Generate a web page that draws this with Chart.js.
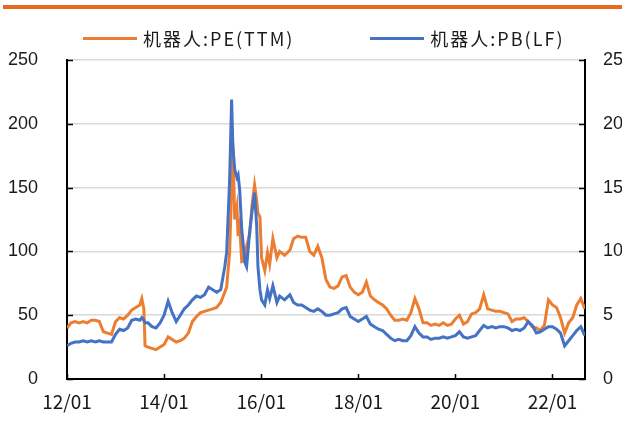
<!DOCTYPE html>
<html>
<head>
<meta charset="utf-8">
<script src="https://cdn.jsdelivr.net/npm/chart.js@4.4.1/dist/chart.umd.min.js"></script>
<style>
  body { margin: 0; background: #fff; }
  #wrap { position: relative; width: 622px; height: 426px; }
  #legend {
    position: absolute; left: 83px; top: 28px; height: 20px;
    display: flex; align-items: center;
    font-family: "Noto Sans CJK SC", sans-serif; font-size: 18px;
    letter-spacing: 2px; color: #1a1a1a; white-space: nowrap;
  }
  .item { display: flex; align-items: center; margin-right: 76px; }
  .swatch { display: inline-block; width: 54px; height: 3px; margin-right: 6px; }
</style>
</head>
<body>
<div id="wrap">
  <canvas id="myChart" width="622" height="426"></canvas>
  <div id="legend"></div>
</div>
<script>
// 日期 / PE(TTM) / PB(LF)
const dates = [
  '2012-01-01','2012-02-01','2012-03-01','2012-04-01','2012-05-01','2012-06-01',
  '2012-07-01','2012-08-01','2012-09-01','2012-10-01','2012-11-01','2012-12-01',
  '2013-01-01','2013-02-01','2013-03-01','2013-04-01','2013-05-01','2013-06-01',
  '2013-07-01','2013-07-16','2013-08-01','2013-08-10','2013-09-01','2013-10-01',
  '2013-11-01','2013-12-01',
  '2014-01-01','2014-02-01','2014-03-01','2014-04-01','2014-05-01','2014-06-01',
  '2014-07-01','2014-08-01','2014-09-01','2014-10-01','2014-11-01','2014-12-01',
  '2015-01-01','2015-02-01','2015-03-01','2015-04-01','2015-04-15','2015-05-07',
  '2015-05-22','2015-06-01','2015-06-15','2015-07-01','2015-07-10','2015-07-22',
  '2015-08-07','2015-09-01','2015-09-13','2015-10-07','2015-10-22','2015-11-12',
  '2015-11-28','2015-12-07','2015-12-22',
  '2016-01-04','2016-01-28','2016-02-18','2016-03-04','2016-03-28','2016-04-28',
  '2016-05-18','2016-06-25','2016-08-04','2016-09-01','2016-10-01','2016-11-01',
  '2016-12-01',
  '2017-01-01','2017-02-01','2017-03-01','2017-04-01','2017-05-01','2017-06-01',
  '2017-07-01','2017-08-01','2017-09-01','2017-10-01','2017-11-01','2017-12-01',
  '2018-01-01','2018-02-01','2018-03-01','2018-04-01','2018-05-01','2018-06-01',
  '2018-07-01','2018-08-01','2018-09-01','2018-10-01','2018-11-01','2018-12-01',
  '2019-01-01','2019-02-01','2019-03-01','2019-04-01','2019-05-01','2019-06-01',
  '2019-07-01','2019-08-01','2019-09-01','2019-10-01','2019-11-01','2019-12-01',
  '2020-01-01','2020-02-01','2020-03-01','2020-04-01','2020-05-01','2020-06-01',
  '2020-07-01','2020-08-01','2020-09-01','2020-10-01','2020-11-01','2020-12-01',
  '2021-01-01','2021-02-01','2021-03-01','2021-04-01','2021-05-01','2021-06-01',
  '2021-07-01','2021-08-01','2021-09-01','2021-10-01','2021-11-01','2021-12-01',
  '2022-01-01','2022-02-01','2022-03-01','2022-04-01','2022-05-01','2022-06-01',
  '2022-07-01','2022-08-01','2022-09-01'
];

const peTTM = [
  40, 44, 45, 44, 45, 44, 46, 46, 45, 37, 36, 35,
  45, 48, 47, 50, 54, 56, 58, 63, 55, 26, 25, 24, 23, 25,
  27, 33, 31, 29, 30, 32, 36, 45, 49, 52, 53, 54,
  55, 56, 60, 68, 72, 99, 150, 185, 125, 135, 112, 120,
  92, 93, 104, 114, 135, 152, 140, 130, 127,
  95, 85, 99, 90, 110, 95, 100, 97, 101, 110, 112, 111, 111,
  100, 97, 104, 95, 78, 72, 71, 73, 80, 81, 72, 68,
  66, 68, 76, 65, 62, 60, 58, 55, 50, 46, 46, 47,
  46, 52, 63, 55, 44, 44, 42, 43, 42, 44, 42, 43,
  47, 50, 43, 45, 51, 52, 55, 66, 55, 54, 53, 53,
  52, 51, 45, 47, 47, 48, 45, 41, 40, 38, 42, 62,
  58, 56, 48, 36, 44, 48, 58, 63, 55
];

const pbLF = [
  2.6, 2.8, 2.9, 2.9, 3.0, 2.9, 3.0, 2.9, 3.0, 2.9, 2.9, 2.9,
  3.5, 3.9, 3.8, 4.0, 4.6, 4.7, 4.6, 4.8, 4.6, 4.4, 4.4, 4.1, 4.0, 4.4,
  5.0, 6.1, 5.2, 4.5, 5.0, 5.5, 5.8, 6.2, 6.5, 6.4, 6.6, 7.2,
  7.0, 6.8, 7.0, 8.8, 9.9, 15.6, 21.9, 18.2, 16.4, 15.8, 16.0, 14.8,
  11.7, 9.1, 8.8, 11.7, 13.0, 14.6, 12.0, 8.8, 7.0,
  6.2, 5.8, 7.0, 6.3, 7.3, 6.0, 6.5, 6.2, 6.6, 6.0, 5.8, 5.8, 5.6,
  5.4, 5.3, 5.5, 5.3, 5.0, 5.0, 5.1, 5.2, 5.5, 5.6, 4.9, 4.7,
  4.5, 4.7, 4.9, 4.3, 4.1, 3.9, 3.8, 3.5, 3.2, 3.0, 3.1, 3.0,
  3.0, 3.4, 4.1, 3.6, 3.3, 3.3, 3.1, 3.2, 3.2, 3.3, 3.2, 3.3,
  3.4, 3.7, 3.3, 3.2, 3.3, 3.4, 3.8, 4.2, 4.0, 4.1, 4.0, 4.1,
  4.1, 4.0, 3.8, 3.9, 3.8, 4.0, 4.5, 4.2, 3.6, 3.7, 3.9, 4.1,
  4.1, 3.9, 3.6, 2.6, 3.0, 3.4, 3.8, 4.1, 3.4
];

const seriesNames = ['机器人:PE(TTM)', '机器人:PB(LF)'];
const seriesColors = ['#ED7D31', '#4472C4'];
const yTicksLeft = [0, 50, 100, 150, 200, 250];
const yTicksRight = [0, 5, 10, 15, 20, 25];
const xTickYears = [2012, 2014, 2016, 2018, 2020, 2022];

function toYear(s) {
    const [y, m, d] = s.split('-').map(Number);
    return y + (m - 1) / 12 + (d - 1) / 365;
}

const xs = dates.map(toYear);
const pePoints = xs.map((x, i) => ({ x: x, y: peTTM[i] }));
const pbPoints = xs.map((x, i) => ({ x: x, y: pbLF[i] }));

// 顶部的橙色横条
const topBar = {
    id: 'topBar',
    beforeDraw(chart) {
        const c = chart.ctx;
        c.save();
        c.fillStyle = '#E36C21';
        c.fillRect(3, 5, chart.width - 3, 4);
        c.restore();
    }
};

// 刻度线朝内
const innerTicks = {
    id: 'innerTicks',
    afterDraw(chart) {
        const c = chart.ctx;
        const area = chart.chartArea;
        const s = chart.scales;
        c.save();
        c.strokeStyle = '#000';
        c.lineWidth = 1.5;
        c.beginPath();
        yTicksLeft.forEach(v => {
            const py = Math.round(s.y.getPixelForValue(v)) + 0.5;
            c.moveTo(area.left, py); c.lineTo(area.left + 6, py);
        });
        yTicksRight.forEach(v => {
            const py = Math.round(s.y1.getPixelForValue(v)) + 0.5;
            c.moveTo(area.right, py); c.lineTo(area.right - 6, py);
        });
        xTickYears.forEach(v => {
            const px = Math.round(s.x.getPixelForValue(v)) + 0.5;
            c.moveTo(px, area.bottom); c.lineTo(px, area.bottom - 5);
        });
        c.stroke();
        c.restore();
    }
};

// HTML 图例
const htmlLegend = {
    id: 'htmlLegend',
    afterUpdate(chart) {
        const box = document.getElementById('legend');
        box.innerHTML = '';
        seriesNames.forEach((name, i) => {
            const item = document.createElement('div');
            item.className = 'item';
            const sw = document.createElement('span');
            sw.className = 'swatch';
            sw.style.background = seriesColors[i];
            const txt = document.createElement('span');
            txt.textContent = name;
            item.appendChild(sw);
            item.appendChild(txt);
            box.appendChild(item);
        });
    }
};

const ctx = document.getElementById('myChart');

const tickFont = { family: '"Liberation Sans", Arial, sans-serif', size: 18 };

const valuationChart = new Chart(ctx, {
    type: 'line',
    data: {
        datasets: [
            {
                label: seriesNames[0],
                data: pePoints,
                borderColor: seriesColors[0],
                backgroundColor: seriesColors[0],
                borderWidth: 3,
                pointRadius: 0,
                yAxisID: 'y',
                order: 1
            },
            {
                label: seriesNames[1],
                data: pbPoints,
                borderColor: seriesColors[1],
                backgroundColor: seriesColors[1],
                borderWidth: 3,
                pointRadius: 0,
                yAxisID: 'y1',
                order: 0
            }
        ]
    },
    options: {
        responsive: false,
        animation: false,
        devicePixelRatio: 1,
        layout: { padding: { top: 60, left: 0, right: 0, bottom: 0 } },
        plugins: {
            legend: { display: false },
            tooltip: { enabled: false }
        },
        scales: {
            x: {
                type: 'linear',
                min: 2012,
                max: 2022.67,
                grid: { display: false, drawTicks: false },
                border: { color: '#000', width: 2 },
                afterBuildTicks: axis => { axis.ticks = xTickYears.map(v => ({ value: v })); },
                afterFit: axis => { axis.height = 47; },
                ticks: {
                    padding: 11,
                    color: '#1a1a1a',
                    maxRotation: 0,
                    font: { family: '"Noto Sans CJK SC", sans-serif', size: 19 },
                    callback: v => String(v).slice(2) + '/01'
                }
            },
            y: {
                position: 'left',
                min: 0,
                max: 250,
                grid: { color: '#D9D9D9', lineWidth: 1.5, drawTicks: false },
                border: { color: '#000', width: 2 },
                afterBuildTicks: axis => { axis.ticks = yTicksLeft.map(v => ({ value: v })); },
                afterFit: axis => { axis.width = 67; },
                ticks: { padding: 29, color: '#1a1a1a', font: tickFont }
            },
            y1: {
                position: 'right',
                min: 0,
                max: 25,
                grid: { display: false, drawTicks: false },
                border: { color: '#000', width: 2 },
                afterBuildTicks: axis => { axis.ticks = yTicksRight.map(v => ({ value: v })); },
                afterFit: axis => { axis.width = 37; },
                ticks: { padding: 18, color: '#1a1a1a', font: tickFont }
            }
        }
    },
    plugins: [topBar, innerTicks, htmlLegend]
});
</script>
</body>
</html>
